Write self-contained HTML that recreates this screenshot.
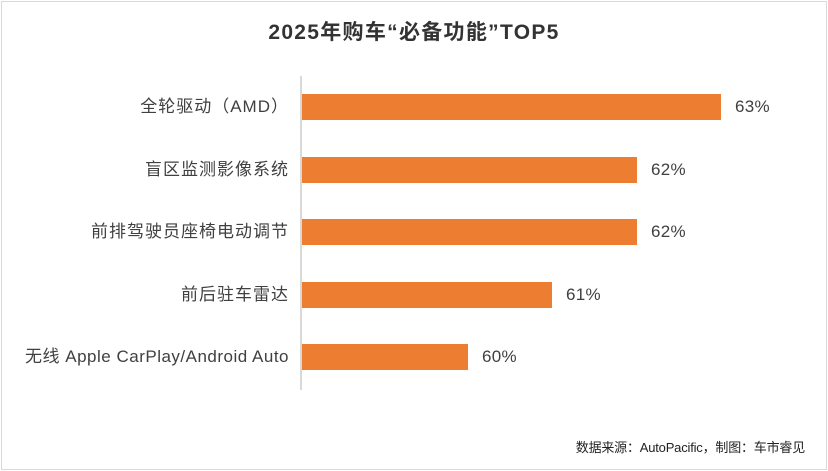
<!DOCTYPE html>
<html><head><meta charset="utf-8"><style>
html,body{margin:0;padding:0;background:#fff;}
body{width:828px;height:471px;position:relative;overflow:hidden;font-family:"Liberation Sans","Noto Sans CJK SC",sans-serif;}
.frame{position:absolute;left:1px;top:1px;width:824px;height:467px;border:1px solid #d9d9d9;}
.t{position:absolute;left:0;width:828px;top:16px;text-align:center;font-size:21px;letter-spacing:1.3px;font-weight:bold;color:#333;}
.axis{position:absolute;left:300px;top:76px;width:2px;height:314px;background:#d9d9d9;}
.bar{position:absolute;left:302px;height:26px;background:#ED7D31;}
.lab{position:absolute;right:539px;font-size:17px;letter-spacing:0.5px;color:#404040;white-space:nowrap;line-height:26px;}
.cj{letter-spacing:1px;}
.val{position:absolute;font-size:17px;letter-spacing:0.3px;color:#404040;line-height:26px;}
.src{position:absolute;right:23px;top:437px;font-size:13px;letter-spacing:-0.2px;color:#222;}
</style></head><body>
<div class="frame"></div>
<div class="t">2025年购车“必备功能”TOP5</div>
<div class="axis"></div>
<div class="lab cj" style="top:94px">全轮驱动（AMD）</div>
<div class="bar" style="top:94px;width:419px"></div>
<div class="val" style="top:94px;left:735px">63%</div>
<div class="lab cj" style="top:157px">盲区监测影像系统</div>
<div class="bar" style="top:157px;width:335px"></div>
<div class="val" style="top:157px;left:651px">62%</div>
<div class="lab cj" style="top:219px">前排驾驶员座椅电动调节</div>
<div class="bar" style="top:219px;width:335px"></div>
<div class="val" style="top:219px;left:651px">62%</div>
<div class="lab cj" style="top:282px">前后驻车雷达</div>
<div class="bar" style="top:282px;width:250px"></div>
<div class="val" style="top:282px;left:566px">61%</div>
<div class="lab" style="top:344px">无线 Apple CarPlay/Android Auto</div>
<div class="bar" style="top:344px;width:166px"></div>
<div class="val" style="top:344px;left:482px">60%</div>
<div class="src">数据来源：AutoPacific，制图：车市睿见</div>
</body></html>
